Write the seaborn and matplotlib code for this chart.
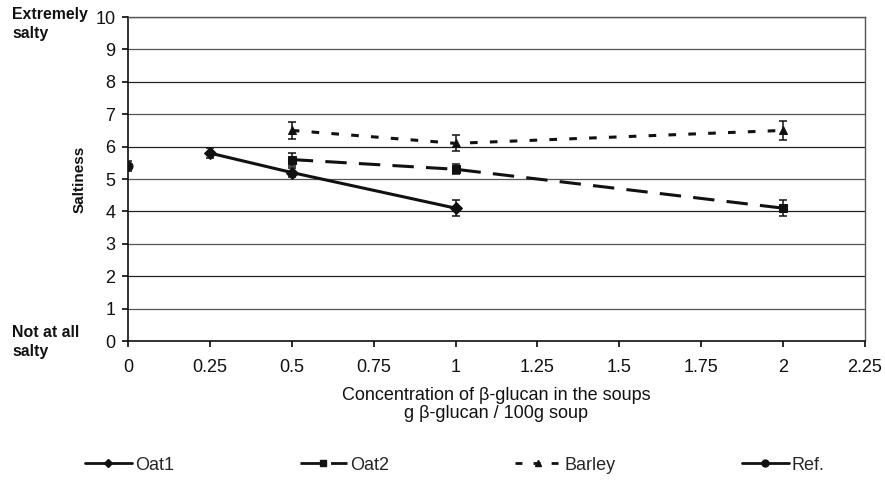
import matplotlib
matplotlib.use("Agg")
import matplotlib.pyplot as plt
import seaborn as sns
import pandas as pd
from matplotlib.lines import Line2D

sns.set_theme(style="white")
plt.rcParams['font.family'] = ['Liberation Sans', 'DejaVu Sans']

# Data
oat1_x = [0.25, 0.5, 1]
oat1_y = [5.8, 5.2, 4.1]
oat1_err = [0.15, 0.15, 0.25]

oat2_x = [0.5, 1, 2]
oat2_y = [5.6, 5.3, 4.1]
oat2_err = [0.2, 0.15, 0.25]

barley_x = [0.5, 1, 2]
barley_y = [6.5, 6.1, 6.5]
barley_err = [0.25, 0.25, 0.3]

ref_x = [0]
ref_y = [5.4]
ref_err = [0.15]

x_ticks = [0, 0.25, 0.5, 0.75, 1, 1.25, 1.5, 1.75, 2, 2.25]
x_tick_labels = ["0", "0.25", "0.5", "0.75", "1", "1.25", "1.5", "1.75", "2", "2.25"]
y_ticks = list(range(0, 11))

series = [
    ("Oat1", oat1_x, oat1_y, oat1_err, "D", (None, None), 6),
    ("Oat2", oat2_x, oat2_y, oat2_err, "s", (7, 4), 6),
    ("Barley", barley_x, barley_y, barley_err, "^", (2.5, 4), 6),
    ("Ref.", ref_x, ref_y, ref_err, "o", (None, None), 6.5),
]
legend_x = [85, 300, 515, 742]

fig = plt.figure(figsize=(8.85, 4.86), dpi=100)
ax = fig.add_axes([128/885, 1-341/486, (865-128)/885, (341-17)/486])

for yv in y_ticks:
    ax.axhline(yv, color="#222222" if yv % 2 == 0 else "#555555", lw=0.9, zorder=0)

for (name, xs, ys, es, mk, dash, ms), lx in zip(series, legend_x):
    df = pd.DataFrame({"x": xs, "y": ys})
    ls = "-" if dash[0] is None else (0, dash)
    sns.lineplot(data=df, x="x", y="y", ax=ax, color="#111111", lw=2.2,
                 linestyle=ls, marker=mk, markersize=ms, markeredgecolor="#111111",
                 errorbar=None, zorder=3)
    ax.errorbar(xs, ys, yerr=es, fmt="none", ecolor="#111111", elinewidth=1.1,
                capsize=3, capthick=1.1, zorder=4)
    h = Line2D([0], [0], color="#111111", lw=2, linestyle=ls,
               marker=mk, markersize=ms - 1.5)
    fig.legend([h], [name], loc="center left",
               bbox_to_anchor=(lx/885, 1-465/486), frameon=False, fontsize=13,
               handlelength=2.6, handletextpad=0.15, borderpad=0, borderaxespad=0)

ax.set_xlim(0, 2.25)
ax.set_ylim(0, 10)
ax.set_xticks(x_ticks)
ax.set_xticklabels(x_tick_labels)
ax.set_yticks(y_ticks)
ax.tick_params(axis="x", labelsize=13, colors="#111111", length=4,
               direction="out", bottom=True, pad=9)
ax.tick_params(axis="y", labelsize=13, colors="#111111", length=4,
               direction="out", left=True, pad=5)
for s in ["left", "bottom"]:
    ax.spines[s].set_color("#111111")
    ax.spines[s].set_linewidth(1.2)
for s in ["top", "right"]:
    ax.spines[s].set_color("#555555")
    ax.spines[s].set_linewidth(1)

ax.set_xlabel("Concentration of β-glucan in the soups\ng β-glucan / 100g soup",
              fontsize=13, color="#111111", labelpad=8, linespacing=1.05)
ax.set_ylabel("Saltiness", fontsize=11, fontweight="bold", color="#111111", labelpad=6)

fig.text(12/885, 1-7/486, "Extremely\nsalty", fontsize=11.4, fontweight="bold",
         color="#111111", va="top", ha="left", linespacing=1.35)
fig.text(12/885, 1-325/486, "Not at all\nsalty", fontsize=11.4, fontweight="bold",
         color="#111111", va="top", ha="left", linespacing=1.35)

fig.savefig("out.png", dpi=100)
